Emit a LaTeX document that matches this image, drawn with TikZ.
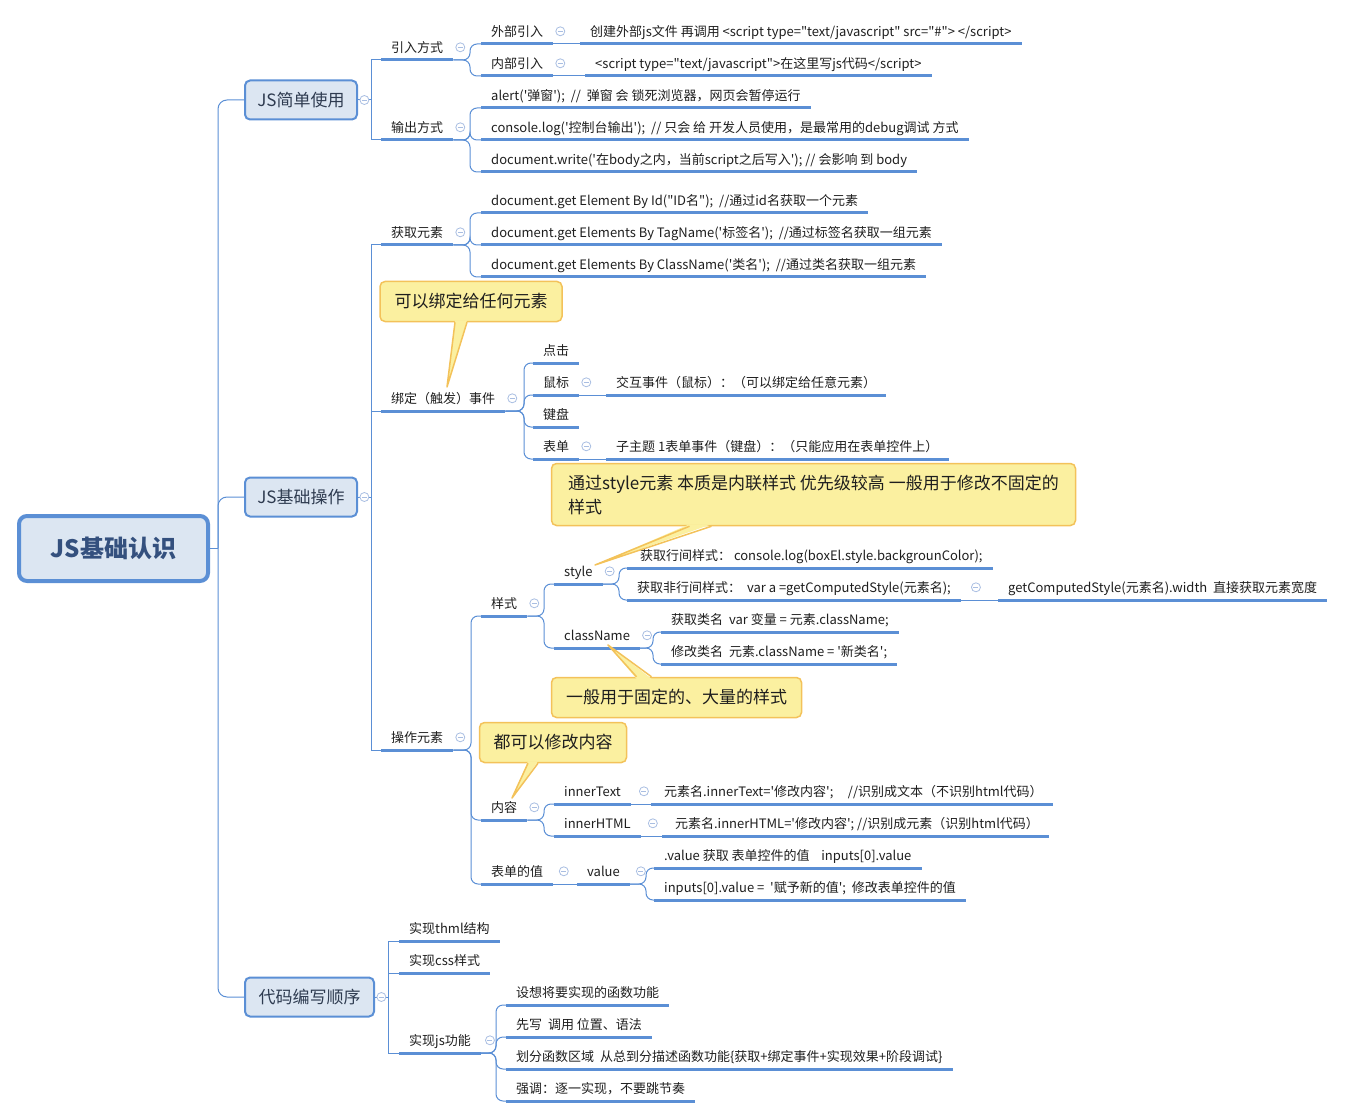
\documentclass[tikz,border=0pt]{standalone}
\usepackage{fontspec}
\setmainfont{Noto Sans CJK SC}[Ligatures=TeXOff]
\usetikzlibrary{positioning}

\definecolor{linec}{HTML}{5B8FD5}
\definecolor{boxfill}{HTML}{DCE6F2}
\definecolor{boxc}{HTML}{2E3B50}
\definecolor{rootc}{HTML}{34507E}
\definecolor{foldc}{HTML}{A9BEE2}
\definecolor{notefill}{HTML}{FBF0A0}
\definecolor{notec}{HTML}{F3C25A}
\definecolor{leafc}{HTML}{1E1E1E}

\begin{document}
\begin{tikzpicture}[x=1pt,y=-1pt,
    root node/.style={draw=linec,line width=4pt,fill=boxfill,rounded corners=8pt,
        minimum width=189pt,minimum height=65pt,text=rootc,
        font=\fontsize{24}{28}\selectfont\bfseries},
    main node/.style={draw=linec,line width=2pt,fill=boxfill,rounded corners=5pt,
        minimum height=39pt,text=boxc,font=\fontsize{17}{20}\selectfont},
    leaf/.style={anchor=south west,inner xsep=10pt,inner ysep=6pt,text height=12pt,
        text depth=1pt,text=leafc,font=\fontsize{13}{15}\selectfont},
    fold/.style={circle,draw=foldc,line width=0.8pt,fill=white,minimum size=9pt,inner sep=0pt,
        path picture={\draw[foldc,line width=0.8pt]
            ([xshift=-2.5pt]path picture bounding box.center) --
            ([xshift=2.5pt]path picture bounding box.center);}},
    note/.style={draw=notec,line width=1.5pt,fill=notefill,rounded corners=5pt,
        minimum height=40pt,align=left,text=leafc,font=\fontsize{17}{24}\selectfont},
    conn/.style={draw=linec,line width=1pt},
    brace/.style={conn,rounded corners=7pt},
    uline/.style={draw=linec,line width=3pt},
    tail/.style={draw=notec,line width=1.5pt,line join=round}]

    \useasboundingbox (0,0) rectangle (1350,1118);

    % Define vertices
    \node[root node] (root) at (113.5,548.5) {JS基础认识};
    \node[main node,minimum width=112pt] (jsuse) at (301,100) {JS简单使用};
    \node[main node,minimum width=112pt] (jsop) at (301,497) {JS基础操作};
    \node[main node,minimum width=129pt] (order) at (309.5,997) {代码编写顺序};

    % JS简单使用
    \node[leaf] (yrfs) at (381,60) {引入方式};
    \node[leaf] (scfs) at (381,140) {输出方式};
    \node[leaf] (wbyr) at (481,44) {外部引入};
    \node[leaf] (wbcode) at (580,44) {创建外部js文件 再调用 <script type="text/javascript" src="\#"> </script>};
    \node[leaf] (nbyr) at (481,76) {内部引入};
    \node[leaf] (nbcode) at (585,76) {<script type="text/javascript">在这里写js代码</script>};
    \node[leaf] (alert) at (481,108) {alert('弹窗');\ \ //\ \ 弹窗 会 锁死浏览器，网页会暂停运行};
    \node[leaf] (clog) at (481,140) {console.log('控制台输出');\ \ // 只会 给 开发人员使用，是最常用的debug调试 方式};
    \node[leaf] (dwrite) at (481,172) {document.write('在body之内，当前script之后写入'); // 会影响 到 body};

    % JS基础操作
    \node[leaf] (hqys) at (381,245) {获取元素};
    \node[leaf] (byid) at (481,213) {document.get Element By Id("ID名");\ \ //通过id名获取一个元素};
    \node[leaf] (bytag) at (481,245) {document.get Elements By TagName('标签名');\ \ //通过标签名获取一组元素};
    \node[leaf] (bycls) at (481,277) {document.get Elements By ClassName('类名');\ \ //通过类名获取一组元素};
    \node[leaf] (bdsj) at (381,411) {绑定（触发）事件};
    \node[leaf] (click) at (533,363) {点击};
    \node[leaf] (mouse) at (533,395) {鼠标};
    \node[leaf] (keyb) at (533,427) {键盘};
    \node[leaf] (form) at (533,459) {表单};
    \node[leaf] (mousetxt) at (606,395) {交互事件（鼠标）：（可以绑定给任意元素）};
    \node[leaf] (formtxt) at (606,459) {子主题 1表单事件（键盘）：（只能应用在表单控件上）};
    \node[leaf] (czys) at (381,750) {操作元素};
    \node[leaf] (ys) at (481,616) {样式};
    \node[leaf] (sty) at (554,584) {style};
    \node[leaf] (hjys) at (627,568) {\ 获取行间样式：\ console.log(boxEl.style.backgrounColor);};
    \node[leaf] (fhjys) at (627,600) {获取非行间样式：\ \ var a =getComputedStyle(元素名);};
    \node[leaf] (width) at (998,600) {getComputedStyle(元素名).width\ \ 直接获取元素宽度};
    \node[leaf] (cname) at (554,648) {className};
    \node[leaf] (hqlm) at (661,632) {获取类名\ \ var 变量 = 元素.className;};
    \node[leaf] (xglm) at (661,664) {修改类名\ \ 元素.className = '新类名';};
    \node[leaf] (nr) at (481,820) {内容};
    \node[leaf] (itext) at (554,804) {innerText};
    \node[leaf] (itcode) at (651,804) {\ 元素名.innerText='修改内容';\ \ \ \ \ //识别成文本（不识别html代码）};
    \node[leaf] (ihtml) at (554,836) {innerHTML};
    \node[leaf] (ihcode) at (662,836) {\ 元素名.innerHTML='修改内容';\ //识别成元素（识别html代码）};
    \node[leaf] (bddz) at (481,884) {表单的值};
    \node[leaf] (val) at (577,884) {value};
    \node[leaf] (getval) at (654,868) {.value 获取 表单控件的值\ \ \ \ inputs[0].value};
    \node[leaf] (setval) at (654,900) {inputs[0].value =\ \ '赋予新的值';\ \ 修改表单控件的值};

    % 代码编写顺序
    \node[leaf] (html) at (399,941) {实现thml结构};
    \node[leaf] (css) at (399,973) {实现css样式};
    \node[leaf] (jsfn) at (399,1053) {实现js功能};
    \node[leaf] (js1) at (506,1005) {设想将要实现的函数功能};
    \node[leaf] (js2) at (506,1037) {先写\ \ 调用 位置、语法};
    \node[leaf] (js3) at (506,1069) {划分函数区域\ \ 从总到分描述函数功能\{获取+绑定事件+实现效果+阶段调试\}};
    \node[leaf] (js4) at (506,1101) {强调：逐一实现，不要跳节奏};

    % Underlines
    \foreach \n in {yrfs,scfs,wbyr,wbcode,nbyr,nbcode,alert,clog,dwrite,
            hqys,byid,bytag,bycls,bdsj,click,mouse,keyb,form,mousetxt,formtxt,
            czys,ys,sty,hjys,fhjys,width,cname,hqlm,xglm,nr,itext,itcode,ihtml,ihcode,
            bddz,val,getval,setval,html,css,jsfn,js1,js2,js3,js4}
        \draw[uline] (\n.south west) -- (\n.south east);

    % Draw edges
    \draw[conn] (root.east) -- ++(8,0);
    \foreach \m in {jsuse,jsop,order}
        \draw[brace,rounded corners=9pt] (\m.west) -| ([xshift=8pt]root.east);

    \foreach \c in {yrfs,scfs}
        \draw[conn] (jsuse.east) -| ([xshift=-10pt]\c.south west) -- (\c.south west);
    \foreach \c in {hqys,bdsj,czys}
        \draw[conn] (jsop.east) -| ([xshift=-10pt]\c.south west) -- (\c.south west);
    \foreach \c in {html,css,jsfn}
        \draw[conn] (order.east) -| ([xshift=-11pt]\c.south west) -- (\c.south west);

    \foreach \p/\c/\d in {yrfs/wbyr/11,yrfs/nbyr/11,scfs/alert/11,scfs/clog/11,scfs/dwrite/11,
            hqys/byid/11,hqys/bytag/11,hqys/bycls/11,
            bdsj/click/9,bdsj/mouse/9,bdsj/keyb/9,bdsj/form/9,
            czys/ys/10,czys/nr/10,czys/bddz/10,ys/sty/10,ys/cname/10,
            sty/hjys/8,sty/fhjys/8,cname/hqlm/8,cname/xglm/8,
            nr/itext/10,nr/ihtml/10,val/getval/8,val/setval/8,
            jsfn/js1/10,jsfn/js2/10,jsfn/js3/10,jsfn/js4/10}
        \draw[brace] (\p.south east) -| ([xshift=-\d pt]\c.south west) -- (\c.south west);

    \foreach \a/\b in {wbyr/wbcode,nbyr/nbcode,mouse/mousetxt,form/formtxt,fhjys/width,
            itext/itcode,ihtml/ihcode,bddz/val}
        \draw[conn] (\a.south east) -- (\b.south west);

    % Fold marks
    \node[fold] (f1) [right=1.5pt of jsuse] {};
    \node[fold] (f2) [right=1.5pt of jsop] {};
    \node[fold] (f3) [right=1.5pt of order] {};
    \foreach \n/\g in {yrfs/2,scfs/2,wbyr/2,nbyr/2,hqys/2,bdsj/2,mouse/2,form/2,czys/2,
            ys/2,sty/2,fhjys/10,cname/2,nr/2,itext/8,ihtml/7,bddz/5.5,val/6,jsfn/4}
        \node[fold] (fold-\n) [right=\g pt of \n] {};

    % Callouts
    \node[note,minimum width=182pt] (note1) at (471,301.5) {可以绑定给任何元素};
    \node[note,minimum width=524pt,minimum height=62pt] (note2) at (813.5,494.5)
        {通过style元素 本质是内联样式 优先级较高 一般用于修改不固定的\\样式};
    \node[note,minimum width=250pt] (note3) at (676.5,697.5) {一般用于固定的、大量的样式};
    \node[note,minimum width=147pt] (note4) at (553,742.5) {都可以修改内容};

    \coordinate (tip1) at (447,387);
    \coordinate (tip2) at (595,565);
    \coordinate (tip3) at (608,645);
    \coordinate (tip4) at (512,798);

    \fill[notefill] ([xshift=-16pt,yshift=2pt]note1.south) -- (tip1) -- ([xshift=-4pt,yshift=2pt]note1.south) -- cycle;
    \draw[tail] ([xshift=-16pt]note1.south) -- (tip1) -- ([xshift=-4pt]note1.south);
    \fill[notefill] ([xshift=-124pt,yshift=2pt]note2.south) -- (tip2) -- ([xshift=-102pt,yshift=2pt]note2.south) -- cycle;
    \draw[tail] ([xshift=-124pt]note2.south) -- (tip2) -- ([xshift=-102pt]note2.south);
    \fill[notefill] ([xshift=-40pt,yshift=-2pt]note3.north) -- (tip3) -- ([xshift=-25pt,yshift=-2pt]note3.north) -- cycle;
    \draw[tail] ([xshift=-40pt]note3.north) -- (tip3) -- ([xshift=-25pt]note3.north);
    \fill[notefill] ([xshift=-25pt,yshift=2pt]note4.south) -- (tip4) -- ([xshift=-15pt,yshift=2pt]note4.south) -- cycle;
    \draw[tail] ([xshift=-25pt]note4.south) -- (tip4) -- ([xshift=-15pt]note4.south);

\end{tikzpicture}
\end{document}
